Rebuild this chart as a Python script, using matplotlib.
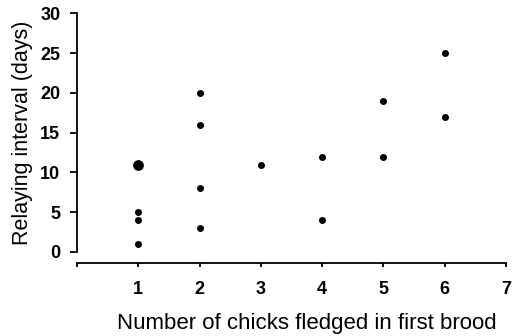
import matplotlib
matplotlib.use("Agg")
import matplotlib.pyplot as plt

plt.rcParams['font.family'] = ['Liberation Sans', 'DejaVu Sans']

# chicks fledged vs relaying interval
chicks = [1, 1, 1, 2, 2, 2, 2, 3, 4, 4, 5, 5, 6, 6]
interval = [5, 4, 1, 20, 16, 8, 3, 11, 12, 4, 19, 12, 25, 17]
# the bigger dot at x=1 (overlapping points)
big_x = [1]
big_y = [11]

fig = plt.figure(figsize=(5.18, 3.36), dpi=100)
ax = fig.add_axes([0.1486, 0.25, 0.977 - 0.1486, 0.96 - 0.25])

ax.scatter(chicks, interval, s=16, color="black", clip_on=False, zorder=3)
ax.scatter(big_x, big_y, s=45, color="black", clip_on=False, zorder=3)

ax.set_xlim(0, 7)
ax.set_ylim(0, 30)
ax.set_xticks(range(0, 8))
ax.set_xticklabels([""] + [str(i) for i in range(1, 8)])
ax.set_yticks(range(0, 31, 5))

ax.spines['top'].set_visible(False)
ax.spines['right'].set_visible(False)
ax.spines['bottom'].set_position(('outward', 8))
for s in ['left', 'bottom']:
    ax.spines[s].set_linewidth(1.3)

ax.tick_params(axis='y', direction='out', length=5, width=1.3, pad=7, labelsize=13)
ax.tick_params(axis='x', direction='out', length=3, width=1.3, pad=10, labelsize=13)
for lab in ax.get_xticklabels() + ax.get_yticklabels():
    lab.set_fontweight('bold')

ax.set_xlabel("Number of chicks fledged in first brood", fontsize=16)
ax.xaxis.set_label_coords(0.536, -0.255)
ax.set_ylabel("Relaying interval (days)", fontsize=15.5, labelpad=5)

fig.savefig("out.png", dpi=100)
